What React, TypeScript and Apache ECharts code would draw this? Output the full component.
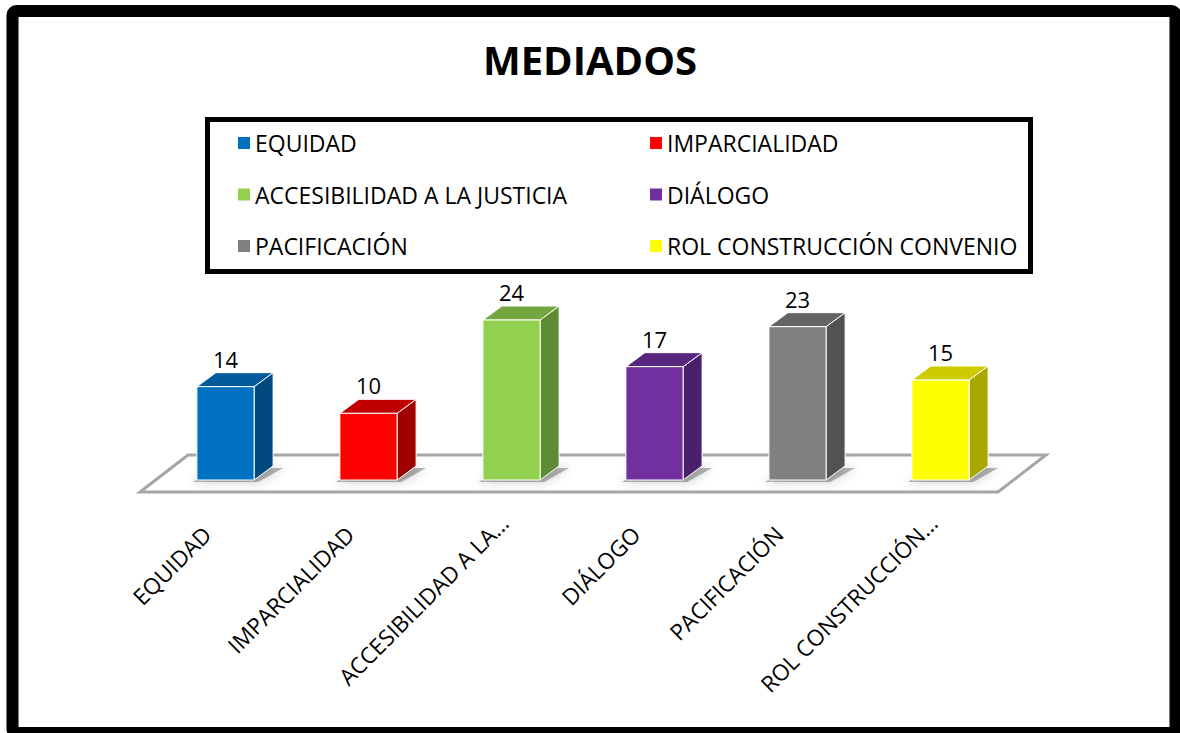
import React, { useEffect, useRef } from "react";
import * as echarts from "echarts";

const categories = [
  "EQUIDAD",
  "IMPARCIALIDAD",
  "ACCESIBILIDAD A LA JUSTICIA",
  "DIÁLOGO",
  "PACIFICACIÓN",
  "ROL CONSTRUCCIÓN CONVENIO",
];
const axisLabels = [
  "EQUIDAD",
  "IMPARCIALIDAD",
  "ACCESIBILIDAD A LA…",
  "DIÁLOGO",
  "PACIFICACIÓN",
  "ROL CONSTRUCCIÓN…",
];
const values = [14, 10, 24, 17, 23, 15];
const frontColors = ["#0070C0", "#FF0000", "#92D050", "#7030A0", "#808080", "#FFFF00"];
const topColors = ["#005A9C", "#C00000", "#73A63E", "#58267E", "#646464", "#CCCC00"];
const sideColors = ["#004A80", "#A00000", "#5E8A33", "#4A1F6B", "#525252", "#A8A800"];

const FONT = "'Open Sans', sans-serif";
const DX = 19;
const DY = 14;

export default function App() {
  const ref = useRef<HTMLDivElement>(null);
  useEffect(() => {
    if (!ref.current) return;
    const chart = echarts.init(ref.current, undefined, { renderer: "svg" });

    const series = categories.map((name, i) => ({
      type: "custom",
      name,
      itemStyle: { color: frontColors[i] },
      data: [[i, values[i]]],
      encode: { x: 0, y: 1 },
      z: 3,
      renderItem: (params: any, api: any) => {
        const idx = api.value(0);
        const v = api.value(1);
        const base = api.coord([idx, 0]);
        const top = api.coord([idx, v]);
        const w = api.size([1, 0])[0] * 0.4;
        const x0 = base[0] - w / 2;
        const x1 = x0 + w;
        const yb = base[1];
        const yt = top[1];
        return {
          type: "group",
          children: [
            {
              type: "polygon",
              shape: {
                points: [
                  [x0 - 4, yb + 2],
                  [x1 + 4, yb + 2],
                  [x1 + DX + 10, yb - DY + 2],
                  [x0 + DX, yb - DY + 2],
                ],
              },
              style: {
                fill: "rgba(90,90,90,0.45)",
                shadowBlur: 10,
                shadowColor: "rgba(60,60,60,0.6)",
              },
            },
            {
              type: "polygon",
              shape: {
                points: [
                  [x1, yt],
                  [x1 + DX, yt - DY],
                  [x1 + DX, yb - DY],
                  [x1, yb],
                ],
              },
              style: { fill: sideColors[i], stroke: "#ffffff", lineWidth: 1 },
            },
            {
              type: "polygon",
              shape: {
                points: [
                  [x0, yt],
                  [x0 + DX, yt - DY],
                  [x1 + DX, yt - DY],
                  [x1, yt],
                ],
              },
              style: { fill: topColors[i], stroke: "#ffffff", lineWidth: 1 },
            },
            {
              type: "rect",
              shape: { x: x0, y: yt, width: w, height: yb - yt },
              style: { fill: frontColors[i], stroke: "#ffffff", lineWidth: 1 },
            },
            {
              type: "text",
              x: base[0],
              y: yt - DY - 3,
              style: {
                text: String(v),
                fill: "#000000",
                font: `22px ${FONT}`,
                textAlign: "center",
                textVerticalAlign: "bottom",
              },
            },
          ],
        };
      },
    }));

    const legendCommon = {
      orient: "vertical",
      itemWidth: 12,
      itemHeight: 12,
      itemGap: 27.5,
      icon: "rect",
      selectedMode: false,
      textStyle: { fontSize: 23, lineHeight: 24, color: "#000000", fontFamily: FONT },
    };

    const labelText = {
      fontSize: 22.5,
      color: "#000000",
      fontFamily: FONT,
    };

    chart.setOption({
      animation: false,
      backgroundColor: "#ffffff",
      title: {
        text: "MEDIADOS",
        left: "center",
        top: 34,
        textStyle: { fontSize: 40, fontWeight: "bold", color: "#000000", fontFamily: FONT },
      },
      legend: [
        { ...legendCommon, left: 233, top: 126, data: [categories[0], categories[2], categories[4]] },
        { ...legendCommon, left: 645, top: 126, data: [categories[1], categories[3], categories[5]] },
      ],
      grid: { left: 154, right: 168, top: 280, bottom: 253 },
      xAxis: {
        type: "category",
        data: categories,
        axisLine: { show: false },
        axisTick: { show: false },
        axisLabel: {
          rotate: 45,
          margin: 32,
          interval: 0,
          ...labelText,
          formatter: (_v: string, i: number) => {
            const t = axisLabels[i];
            return t.endsWith("…") ? `{t|${t}}` : `{n|${t}}`;
          },
          rich: {
            n: { ...labelText, padding: [0, 26, 0, 0] },
            t: { ...labelText, padding: [0, 10, 0, 0] },
          },
        },
      },
      yAxis: { type: "value", min: 0, max: 30, show: false },
      graphic: [
        {
          type: "rect",
          shape: { x: 12.5, y: 11, width: 1163, height: 722, r: 4 },
          style: { fill: "none", stroke: "#000000", lineWidth: 12 },
          z: 10,
        },
        {
          type: "rect",
          shape: { x: 207.5, y: 119.5, width: 823, height: 152 },
          style: { fill: "none", stroke: "#000000", lineWidth: 5 },
          z: 10,
        },
        {
          type: "polygon",
          shape: {
            points: [
              [140, 492],
              [188, 455],
              [1046, 455],
              [998, 492],
            ],
          },
          style: { fill: "#ffffff", stroke: "#A6A6A6", lineWidth: 3 },
          z: 0,
        },
      ],
      series,
    });
    return () => chart.dispose();
  }, []);
  return (
    <div
      ref={ref}
      style={{ position: "fixed", left: 0, top: 0, width: 1180, height: 733 }}
    />
  );
}
